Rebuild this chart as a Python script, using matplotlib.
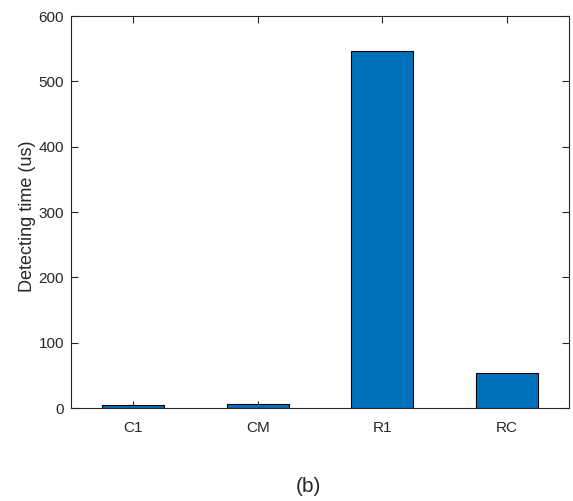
import matplotlib
matplotlib.use("Agg")
import matplotlib.pyplot as plt

plt.rcParams['font.family'] = ['Liberation Sans', 'DejaVu Sans']

categories = ["C1", "CM", "R1", "RC"]
detect_time = [4, 6, 547, 53]
y_ticks = [0, 100, 200, 300, 400, 500, 600]

fig = plt.figure(figsize=(5.73, 5.01), dpi=100)
ax = fig.add_axes([71 / 573, 1 - 408 / 501, 498 / 573, 392 / 501])

x = list(range(1, len(categories) + 1))
ax.bar(x, detect_time, width=0.5, color="#0072BD", edgecolor="black", linewidth=0.8, zorder=2)

ax.set_xlim(0.5, 4.5)
ax.set_ylim(0, 600)
ax.set_xticks(x)
ax.set_xticklabels(categories)
ax.set_yticks(y_ticks)

for s in ax.spines.values():
    s.set_linewidth(0.8)
    s.set_color("#262626")
ax.tick_params(direction="in", length=5, width=0.8, color="#262626",
               labelsize=11, labelcolor="#262626", top=True, right=True, pad=5)
ax.tick_params(axis="x", pad=9)

fig.text(28 / 573, 1 - 216 / 501, "Detecting time (us)", rotation=90,
         ha="center", va="center", fontsize=13, color="#262626")
fig.text(308 / 573, 1 - 487 / 501, "(b)", ha="center", va="center",
         fontsize=15, color="#262626")

fig.savefig("out.png", dpi=100)
